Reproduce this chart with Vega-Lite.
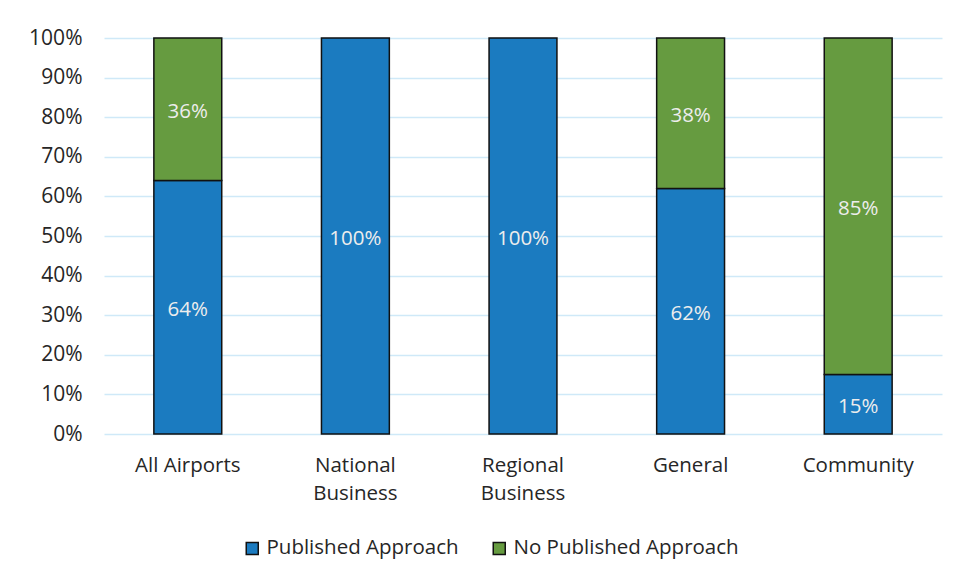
{
  "$schema": "https://vega.github.io/schema/vega-lite/v6.json",
  "width": 838,
  "height": 396,
  "autosize": "none",
  "padding": {"left": 104, "top": 38, "right": 14, "bottom": 147},
  "background": "white",
  "config": {
    "font": "Open Sans",
    "view": {"stroke": null}
  },
  "data": {
    "values": [
      {"category": "All Airports", "type": "Published Approach", "ord": 1, "value": 0.64},
      {"category": "All Airports", "type": "No Published Approach", "ord": 2, "value": 0.36},
      {"category": "National Business", "type": "Published Approach", "ord": 1, "value": 1.0},
      {"category": "Regional Business", "type": "Published Approach", "ord": 1, "value": 1.0},
      {"category": "General", "type": "Published Approach", "ord": 1, "value": 0.62},
      {"category": "General", "type": "No Published Approach", "ord": 2, "value": 0.38},
      {"category": "Community", "type": "Published Approach", "ord": 1, "value": 0.15},
      {"category": "Community", "type": "No Published Approach", "ord": 2, "value": 0.85}
    ]
  },
  "encoding": {
    "x": {
      "field": "category",
      "type": "nominal",
      "sort": null,
      "scale": {"paddingInner": 0.595, "paddingOuter": 0.2975},
      "axis": {
        "title": null,
        "labelAngle": 0,
        "labelFontSize": 20.5,
        "labelColor": "#262626",
        "labelPadding": 21,
        "labelLineHeight": 28,
        "labelBaseline": "top",
        "labelLimit": 0,
        "domain": false,
        "ticks": false,
        "labelExpr": "indexof(datum.label, 'Business') > 0 ? split(datum.label, ' ') : datum.label"
      }
    },
    "y": {
      "field": "value",
      "type": "quantitative",
      "stack": "zero",
      "scale": {"domain": [0, 1]},
      "axis": {
        "title": null,
        "format": ".0%",
        "values": [0, 0.1, 0.2, 0.3, 0.4, 0.5, 0.6, 0.7, 0.8, 0.9, 1.0],
        "labelFontSize": 21,
        "labelColor": "#262626",
        "labelPadding": 22,
        "domain": false,
        "ticks": false,
        "gridColor": "#cfe9f8",
        "gridWidth": 1.5
      }
    },
    "order": {"field": "ord", "type": "quantitative"}
  },
  "layer": [
    {
      "mark": {"type": "bar", "stroke": "#111111", "strokeWidth": 1.5},
      "encoding": {
        "color": {
          "field": "type",
          "type": "nominal",
          "sort": ["Published Approach", "No Published Approach"],
          "scale": {"domain": ["Published Approach", "No Published Approach"], "range": ["#1b7bc0", "#669b40"]},
          "legend": {
            "title": null,
            "orient": "none",
            "direction": "horizontal",
            "legendX": 138,
            "legendY": 500,
            "symbolType": "square",
            "symbolSize": 144,
            "symbolStrokeColor": "#111111",
            "symbolStrokeWidth": 1.5,
            "labelFontSize": 20.5,
            "labelColor": "#262626",
            "labelOffset": 4,
            "labelLimit": 0,
            "columnPadding": 30
          }
        }
      }
    },
    {
      "mark": {"type": "text", "fontSize": 20.5, "color": "#ededed", "baseline": "middle", "dy": 3},
      "encoding": {
        "y": {"field": "value", "type": "quantitative", "stack": "zero", "bandPosition": 0.5},
        "text": {"field": "value", "type": "quantitative", "format": ".0%"}
      }
    }
  ]
}
